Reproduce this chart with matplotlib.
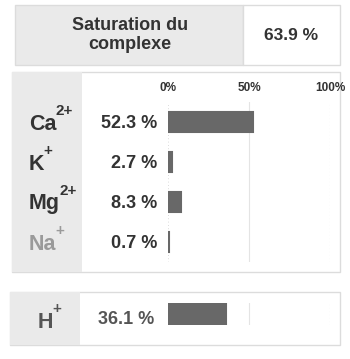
import matplotlib
matplotlib.use("Agg")
import matplotlib.pyplot as plt
from matplotlib.patches import Rectangle

plt.rcParams['font.family'] = ['Liberation Sans', 'DejaVu Sans']

# data
title = "Saturation du\ncomplexe"
saturation = "63.9 %"
ions = ["Ca", "K", "Mg", "Na"]
charges = ["2+", "+", "2+", "+"]
shares = [52.3, 2.7, 8.3, 0.7]
h_ion = "H"
h_charge = "+"
h_share = 36.1
tick_vals = [0, 50, 100]
tick_labels = ["0%", "50%", "100%"]

W, H = 350, 359
fig = plt.figure(figsize=(W / 100, H / 100), dpi=100)
fig.patch.set_facecolor("white")
renderer = fig.canvas.get_renderer()

# background layer in pixel coordinates
bg = fig.add_axes([0, 0, 1, 1])
bg.set_xlim(0, W)
bg.set_ylim(H, 0)
bg.axis("off")

cell_gray = "#eaeaea"
edge = "#dcdcdc"
txt = "#333333"
bar_col = "#686868"

# top block
bg.add_patch(Rectangle((15, 5), 228, 60, facecolor=cell_gray, edgecolor=edge, lw=1))
bg.add_patch(Rectangle((243, 5), 97, 60, facecolor="white", edgecolor=edge, lw=1))
bg.text(130, 35, title, ha="center", va="center", fontsize=13,
        fontweight="bold", color=txt, linespacing=1.1)
bg.text(291, 36, saturation, ha="center", va="center", fontsize=12.5,
        fontweight="bold", color=txt)

# cations block
bg.add_patch(Rectangle((12, 72), 328, 200, facecolor="white", edgecolor=edge, lw=1))
bg.add_patch(Rectangle((12, 72), 70, 200, facecolor=cell_gray, edgecolor="none"))

# H block
bg.add_patch(Rectangle((10, 292), 330, 53, facecolor="white", edgecolor=edge, lw=1))
bg.add_patch(Rectangle((10, 292), 70, 53, facecolor=cell_gray, edgecolor="none"))

x0, x1 = 168, 330


def bar_axes(top, bottom):
    ax = fig.add_axes([x0 / W, 1 - bottom / H, (x1 - x0) / W, (bottom - top) / H])
    ax.set_xlim(0, 100)
    ax.patch.set_alpha(0)
    for s in ax.spines.values():
        s.set_visible(False)
    ax.tick_params(left=False, bottom=False, labelleft=False, labelbottom=False)
    ax.axvline(50, color="#e4e4e4", lw=0.8, zorder=0)
    ax.axvline(100, color="#d0d0d0", lw=0.8, ls=(0, (1, 2)), zorder=0)
    ax.axvline(0, color="#d0d0d0", lw=0.6, ls=(0, (1, 3)), zorder=0)
    return ax


def ion_label(x, y, ion, charge, color):
    t = bg.text(x, y, ion, ha="left", va="center", fontsize=15.5,
                fontweight="bold", color=color)
    bb = t.get_window_extent(renderer)
    xr = bg.transData.inverted().transform((bb.x1, bb.y1))[0]
    bg.text(xr - 1, y - 13, charge, ha="left", va="center", fontsize=11,
            fontweight="bold", color=color)


ax = bar_axes(102, 262)
ypos = list(range(len(ions)))
ax.barh(ypos, shares, height=0.5, color=bar_col, edgecolor=bar_col, lw=1.5)
ax.set_ylim(len(ions) - 0.5, -0.5)
ax.xaxis.set_ticks_position("top")
ax.set_xticks(tick_vals)
ax.set_xticklabels(tick_labels, fontsize=8.5, fontweight="bold", color=txt)
ax.tick_params(top=False, labeltop=True, pad=2)

label_cols = [txt, txt, txt, "#9a9a9a"]
for i, (ion, ch, v) in enumerate(zip(ions, charges, shares)):
    yc = 122 + 40 * i
    ion_label(29, yc + 2, ion, ch, label_cols[i])
    bg.text(157, yc + 1, f"{v} %", ha="right", va="center", fontsize=13,
            fontweight="bold", color=txt)

axh = bar_axes(303, 325)
axh.barh([0], [h_share], height=1.0, color=bar_col, edgecolor=bar_col, lw=1.5)
axh.set_ylim(0.5, -0.5)
ion_label(38, 322, h_ion, h_charge, "#555555")
bg.text(154, 320, f"{h_share} %", ha="right", va="center", fontsize=13,
        fontweight="bold", color="#555555")

fig.savefig("out.png", dpi=100, facecolor="white")
